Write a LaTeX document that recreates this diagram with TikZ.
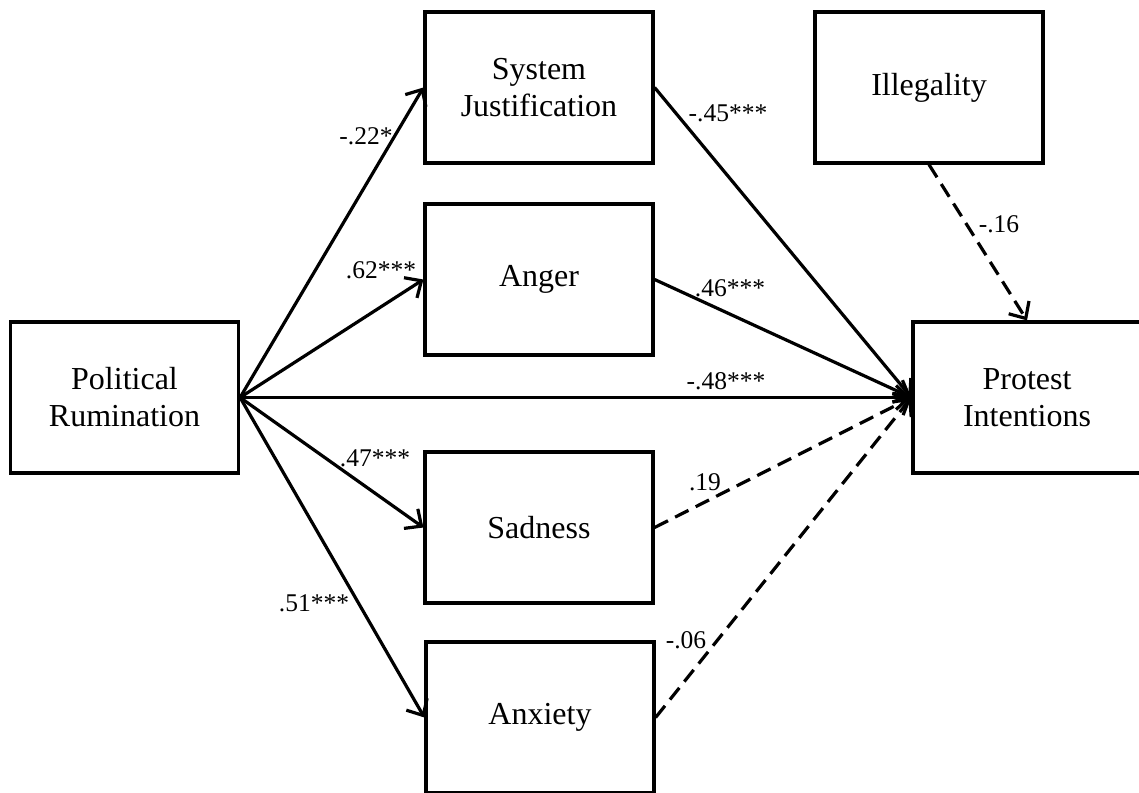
\documentclass[tikz,border=0pt]{standalone}
\usepackage{fontspec}
\setmainfont{Liberation Serif}
\usetikzlibrary{arrows.meta}
\begin{document}
\begin{tikzpicture}[x=1pt,y=-1pt,
  varbox/.style={draw,line width=3.2pt,minimum width=228pt,minimum height=151pt,
    align=center,inner sep=0pt,font=\fontsize{32}{37}\selectfont},
  path/.style={line width=3.2pt,-{Straight Barb[length=13pt,width=24pt,line width=3.2pt]}},
  nspath/.style={path,dash pattern=on 15pt off 8pt},
  coef/.style={inner sep=0pt,font=\fontsize{25.5}{28}\selectfont}]
\useasboundingbox (0,0) rectangle (1139,792);
\clip (0,0) rectangle (1139,792);

% variables
\node[varbox] (pr)  at (124.5,397.5) {Political\\Rumination};
\node[varbox] (sj)  at (539,87.5)    {System\\Justification};
\node[varbox] (ang) at (539,279.5)   {Anger};
\node[varbox] (sad) at (539,527.5)   {Sadness};
\node[varbox] (anx) at (540,717.5)   {Anxiety};
\node[varbox] (ill) at (929,87.5)    {Illegality};
\node[varbox] (pi)  at (1027,397.5)  {Protest\\Intentions};

% paths from rumination
\draw[path] (pr.east) -- (sj.west);
\draw[path] (pr.east) -- (ang.west);
\draw[path] (pr.east) -- (pi.west);
\draw[path] (pr.east) -- (sad.west);
\draw[path] (pr.east) -- (anx.west);

% paths to protest intentions
\draw[path] (sj.east) -- (pi.west);
\draw[path] (ang.east) -- (pi.west);
\draw[nspath] (sad.east) -- (pi.west);
\draw[nspath] (anx.east) -- (pi.west);
\draw[nspath] (ill.south) -- (pi.north);

% coefficients
\node[coef] (c1)  at (366,136) {-.22*};
\node[coef] (c2)  at (381,270) {.62***};
\node[coef] (c3)  at (728,113) {-.45***};
\node[coef] (c4)  at (999,224) {-.16};
\node[coef] (c5)  at (730,288) {.46***};
\node[coef] (c6)  at (726,381) {-.48***};
\node[coef] (c7)  at (375,458) {.47***};
\node[coef] (c8)  at (705,482) {.19};
\node[coef] (c9)  at (314,603) {.51***};
\node[coef] (c10) at (686,640) {-.06};
\end{tikzpicture}
\end{document}
